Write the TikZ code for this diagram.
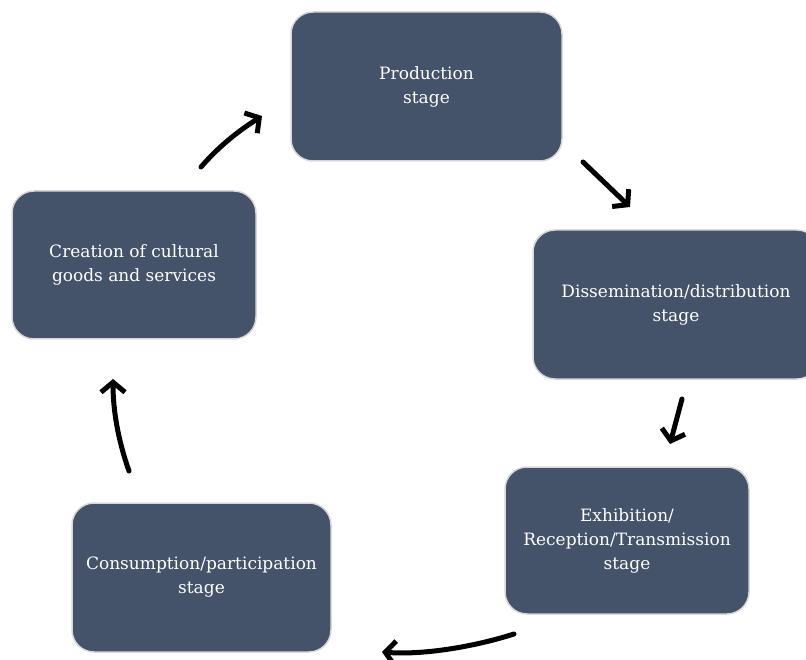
\documentclass[tikz,border=0pt]{standalone}
\usepackage{fontspec}
\setmainfont{DejaVu Serif}
\usetikzlibrary{arrows.meta}
\definecolor{boxfill}{HTML}{445369}
\definecolor{boxedge}{HTML}{D8D8D8}
\tikzset{
  stagebox/.style={draw=boxedge, line width=1.5pt, fill=boxfill, rounded corners=22pt,
    text=white, align=center, font=\fontsize{17}{24}\selectfont, inner sep=0pt},
  flow/.style={line width=5pt, -{Straight Barb[length=10pt,width=24pt,line width=5pt]}, line cap=round},
}
\begin{document}
\begin{tikzpicture}[x=1pt,y=-1pt]
\useasboundingbox (0,0) rectangle (806,660);
\node[stagebox, minimum width=271pt, minimum height=149pt] (prod) at (426.5,86.5) {Production\\stage};
\node[stagebox, minimum width=286pt, minimum height=149pt] (diss) at (676,304.5) {Dissemination/distribution\\stage};
\node[stagebox, minimum width=244pt, minimum height=147pt] (exhi) at (627,540.5) {Exhibition/\\Reception/Transmission\\stage};
\node[stagebox, minimum width=259pt, minimum height=149pt] (cons) at (201.5,577.5) {Consumption/participation\\stage};
\node[stagebox, minimum width=244pt, minimum height=148pt] (crea) at (134,265) {Creation of cultural\\goods and services};
\coordinate (a1s) at (201,167); \coordinate (a1e) at (262,116);
\coordinate (a2s) at (583,162); \coordinate (a2e) at (630,207);
\coordinate (a3s) at (682,399); \coordinate (a3e) at (670,444);
\coordinate (a4s) at (514,634); \coordinate (a4e) at (382,652);
\coordinate (a5s) at (129,471); \coordinate (a5e) at (113,379);
\draw[flow] (a1s) .. controls (220,145) and (240,130) .. (a1e);
\draw[flow] (a2s) -- (a2e);
\draw[flow] (a3s) -- (a3e);
\draw[flow] (a4s) .. controls (470,648) and (420,655) .. (a4e);
\draw[flow] (a5s) .. controls (118,440) and (113,410) .. (a5e);
\end{tikzpicture}
\end{document}
